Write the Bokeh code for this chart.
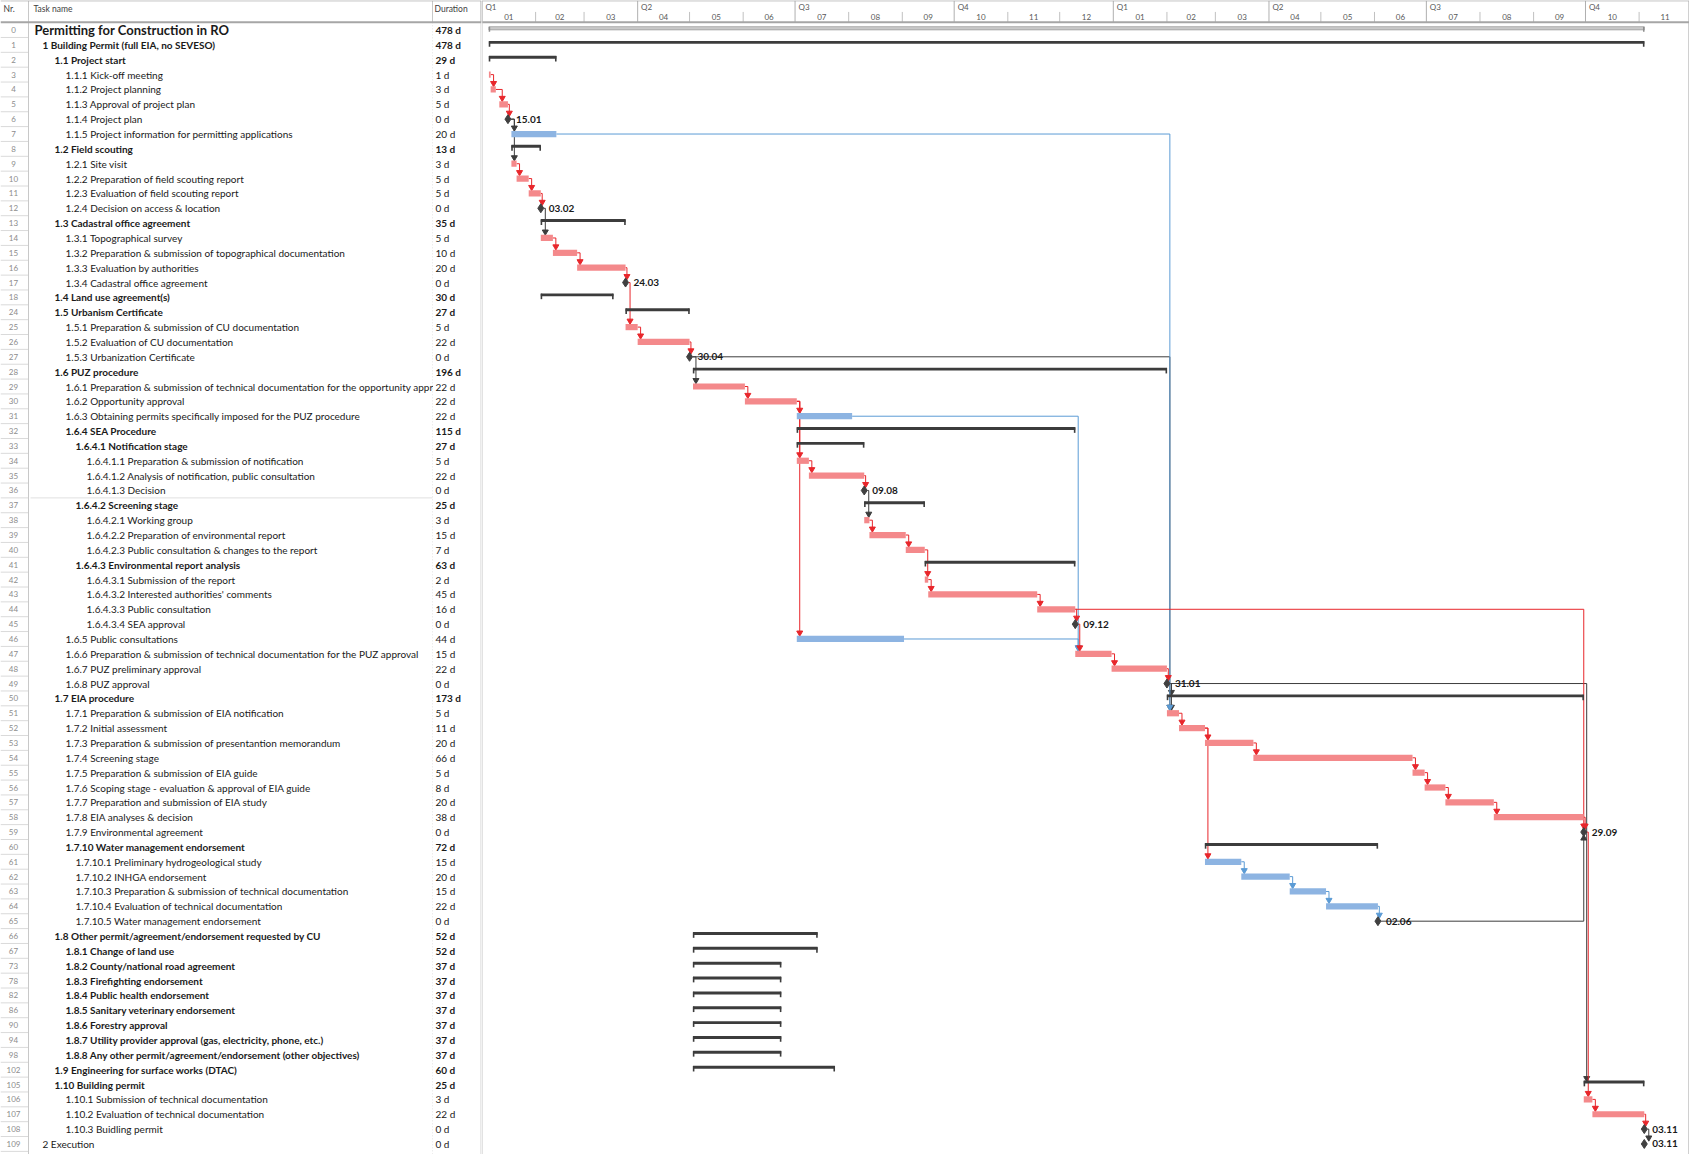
import pandas as pd
from bokeh.plotting import figure
from bokeh.layouts import row
from bokeh.models import Range1d
from bokeh.core.properties import value
from bokeh.embed import file_html
from bokeh.resources import INLINE

# ---------------- data ----------------
task_nr = [0, 1, 2, 3, 4, 5, 6, 7, 8, 9, 10, 11, 12, 13, 14, 15, 16, 17, 18,
           24, 25, 26, 27, 28, 29, 30, 31, 32, 33, 34, 35, 36, 37, 38, 39, 40, 41, 42, 43, 44, 45, 46, 47, 48, 49,
           50, 51, 52, 53, 54, 55, 56, 57, 58, 59, 60, 61, 62, 63, 64, 65,
           66, 67, 73, 78, 82, 86, 90, 94, 98, 102, 105, 106, 107, 108, 109]

task_name = [
    "Permitting for Construction in RO",
    "1 Building Permit (full EIA, no SEVESO)",
    "1.1 Project start",
    "1.1.1 Kick-off meeting",
    "1.1.2 Project planning",
    "1.1.3 Approval of project plan",
    "1.1.4 Project plan",
    "1.1.5 Project information for permitting applications",
    "1.2 Field scouting",
    "1.2.1 Site visit",
    "1.2.2 Preparation of field scouting report",
    "1.2.3 Evaluation of field scouting report",
    "1.2.4 Decision on access & location",
    "1.3 Cadastral office agreement",
    "1.3.1 Topographical survey",
    "1.3.2 Preparation & submission of topographical documentation",
    "1.3.3 Evaluation by authorities",
    "1.3.4 Cadastral office agreement",
    "1.4 Land use agreement(s)",
    "1.5 Urbanism Certificate",
    "1.5.1 Preparation & submission of CU documentation",
    "1.5.2 Evaluation of CU documentation",
    "1.5.3 Urbanization Certificate",
    "1.6 PUZ procedure",
    "1.6.1 Preparation & submission of technical documentation for the opportunity approv",
    "1.6.2 Opportunity approval",
    "1.6.3 Obtaining permits specifically imposed for the PUZ procedure",
    "1.6.4 SEA Procedure",
    "1.6.4.1 Notification stage",
    "1.6.4.1.1 Preparation & submission of notification",
    "1.6.4.1.2 Analysis of notification, public consultation",
    "1.6.4.1.3 Decision",
    "1.6.4.2 Screening stage",
    "1.6.4.2.1 Working group",
    "1.6.4.2.2 Preparation of environmental report",
    "1.6.4.2.3 Public consultation & changes to the report",
    "1.6.4.3 Environmental report analysis",
    "1.6.4.3.1 Submission of the report",
    "1.6.4.3.2 Interested authorities' comments",
    "1.6.4.3.3 Public consultation",
    "1.6.4.3.4 SEA approval",
    "1.6.5 Public consultations",
    "1.6.6 Preparation & submission of technical documentation for the PUZ approval",
    "1.6.7 PUZ preliminary approval",
    "1.6.8 PUZ approval",
    "1.7 EIA procedure",
    "1.7.1 Preparation & submission of EIA notification",
    "1.7.2 Initial assessment",
    "1.7.3 Preparation & submission of presentantion memorandum",
    "1.7.4 Screening stage",
    "1.7.5 Preparation & submission of EIA guide",
    "1.7.6 Scoping stage - evaluation & approval of EIA guide",
    "1.7.7 Preparation and submission of EIA study",
    "1.7.8 EIA analyses & decision",
    "1.7.9 Environmental agreement",
    "1.7.10 Water management endorsement",
    "1.7.10.1 Preliminary hydrogeological study",
    "1.7.10.2 INHGA endorsement",
    "1.7.10.3 Preparation & submission of technical documentation",
    "1.7.10.4 Evaluation of technical documentation",
    "1.7.10.5 Water management endorsement",
    "1.8 Other permit/agreement/endorsement requested by CU",
    "1.8.1 Change of land use",
    "1.8.2 County/national road agreement",
    "1.8.3 Firefighting endorsement",
    "1.8.4 Public health endorsement",
    "1.8.5 Sanitary veterinary endorsement",
    "1.8.6 Forestry approval",
    "1.8.7 Utility provider approval (gas, electricity, phone, etc.)",
    "1.8.8 Any other permit/agreement/endorsement (other objectives)",
    "1.9 Engineering for surface works (DTAC)",
    "1.10 Building permit",
    "1.10.1 Submission of technical documentation",
    "1.10.2 Evaluation of technical documentation",
    "1.10.3 Buidling permit",
    "2 Execution",
]

duration = ["478 d", "478 d", "29 d", "1 d", "3 d", "5 d", "0 d", "20 d", "13 d", "3 d", "5 d", "5 d", "0 d",
            "35 d", "5 d", "10 d", "20 d", "0 d", "30 d",
            "27 d", "5 d", "22 d", "0 d",
            "196 d", "22 d", "22 d", "22 d", "115 d", "27 d", "5 d", "22 d", "0 d", "25 d", "3 d", "15 d", "7 d",
            "63 d", "2 d", "45 d", "16 d", "0 d", "44 d", "15 d", "22 d", "0 d",
            "173 d", "5 d", "11 d", "20 d", "66 d", "5 d", "8 d", "20 d", "38 d", "0 d", "72 d", "15 d", "20 d",
            "15 d", "22 d", "0 d",
            "52 d", "52 d", "37 d", "37 d", "37 d", "37 d", "37 d", "37 d", "37 d", "60 d",
            "25 d", "3 d", "22 d", "0 d", "0 d"]

level = [0, 1, 2, 3, 3, 3, 3, 3, 2, 3, 3, 3, 3, 2, 3, 3, 3, 3, 2,
         2, 3, 3, 3,
         2, 3, 3, 3, 3, 4, 5, 5, 5, 4, 5, 5, 5, 4, 5, 5, 5, 5, 3, 3, 3, 3,
         2, 3, 3, 3, 3, 3, 3, 3, 3, 3, 3, 4, 4, 4, 4, 4,
         2, 3, 3, 3, 3, 3, 3, 3, 3, 2,
         2, 3, 3, 3, 1]

# P = project summary, S = summary, T = task, M = milestone
kind = ["P", "S", "S", "T", "T", "T", "M", "T", "S", "T", "T", "T", "M", "S", "T", "T", "T", "M", "S",
        "S", "T", "T", "M",
        "S", "T", "T", "T", "S", "S", "T", "T", "M", "S", "T", "T", "T", "S", "T", "T", "T", "M", "T", "T", "T", "M",
        "S", "T", "T", "T", "T", "T", "T", "T", "T", "M", "S", "T", "T", "T", "T", "M",
        "S", "S", "S", "S", "S", "S", "S", "S", "S", "S",
        "S", "T", "T", "M", "M"]

non_critical = [7, 31, 46, 61, 62, 63, 64]

start = ["2021-01-05", "2021-01-05", "2021-01-05", "2021-01-05", "2021-01-06", "2021-01-11", "2021-01-15",
         "2021-01-18", "2021-01-18", "2021-01-18", "2021-01-21", "2021-01-28", "2021-02-03",
         "2021-02-04", "2021-02-04", "2021-02-11", "2021-02-25", "2021-03-24", "2021-02-04",
         "2021-03-25", "2021-03-25", "2021-04-01", "2021-04-30",
         "2021-05-03", "2021-05-03", "2021-06-02", "2021-07-02", "2021-07-02", "2021-07-02", "2021-07-02",
         "2021-07-09", "2021-08-09", "2021-08-10", "2021-08-10", "2021-08-13", "2021-09-03",
         "2021-09-14", "2021-09-14", "2021-09-16", "2021-11-18", "2021-12-09", "2021-07-02",
         "2021-12-10", "2021-12-31", "2022-01-31",
         "2022-02-01", "2022-02-01", "2022-02-08", "2022-02-23", "2022-03-23", "2022-06-23", "2022-06-30",
         "2022-07-12", "2022-08-09", "2022-09-29", "2022-02-23", "2022-02-23", "2022-03-16", "2022-04-13",
         "2022-05-04", "2022-06-02",
         "2021-05-03", "2021-05-03", "2021-05-03", "2021-05-03", "2021-05-03", "2021-05-03", "2021-05-03",
         "2021-05-03", "2021-05-03", "2021-05-03",
         "2022-09-30", "2022-09-30", "2022-10-05", "2022-11-03", "2022-11-03"]

finish = ["2022-11-03", "2022-11-03", "2021-02-12", "2021-01-05", "2021-01-08", "2021-01-15", "2021-01-15",
          "2021-02-12", "2021-02-03", "2021-01-20", "2021-01-27", "2021-02-03", "2021-02-03",
          "2021-03-24", "2021-02-10", "2021-02-24", "2021-03-24", "2021-03-24", "2021-03-17",
          "2021-04-30", "2021-03-31", "2021-04-30", "2021-04-30",
          "2022-01-31", "2021-06-01", "2021-07-01", "2021-08-02", "2021-12-09", "2021-08-09", "2021-07-08",
          "2021-08-09", "2021-08-09", "2021-09-13", "2021-08-12", "2021-09-02", "2021-09-13",
          "2021-12-09", "2021-09-15", "2021-11-17", "2021-12-09", "2021-12-09", "2021-09-01",
          "2021-12-30", "2022-01-31", "2022-01-31",
          "2022-09-29", "2022-02-07", "2022-02-22", "2022-03-22", "2022-06-22", "2022-06-29", "2022-07-11",
          "2022-08-08", "2022-09-29", "2022-09-29", "2022-06-02", "2022-03-15", "2022-04-12", "2022-05-03",
          "2022-06-02", "2022-06-02",
          "2021-07-13", "2021-07-13", "2021-06-22", "2021-06-22", "2021-06-22", "2021-06-22", "2021-06-22",
          "2021-06-22", "2021-06-22", "2021-07-23",
          "2022-11-03", "2022-10-04", "2022-11-03", "2022-11-03", "2022-11-03"]

# dependencies (predecessor Nr., successor Nr.)
links_critical = [(3, 4), (4, 5), (5, 6), (9, 10), (10, 11), (11, 12), (14, 15), (15, 16), (16, 17), (17, 25),
                  (25, 26), (26, 27), (29, 30), (30, 31), (30, 34), (30, 46), (34, 35), (35, 36), (38, 39),
                  (39, 40), (40, 42), (42, 43), (43, 44), (44, 45), (45, 47), (47, 48), (48, 49), (51, 52),
                  (52, 53), (52, 61), (53, 54), (54, 55), (55, 56), (56, 57), (57, 58), (58, 59), (44, 59),
                  (59, 106), (106, 107), (107, 108)]
links_summary = [(6, 7), (6, 9), (12, 14), (27, 29), (36, 38), (49, 50), (49, 51), (108, 109), (27, 51),
                 (49, 105), (65, 59)]
links_noncritical = [(7, 51), (31, 47), (46, 47), (61, 62), (62, 63), (63, 64), (64, 65)]

quarter_labels = ["Q1", "Q2", "Q3", "Q4", "Q1", "Q2", "Q3", "Q4"]
quarter_starts = ["2021-01-01", "2021-04-01", "2021-07-01", "2021-10-01",
                  "2022-01-01", "2022-04-01", "2022-07-01", "2022-10-01"]
month_labels = ["01", "02", "03", "04", "05", "06", "07", "08", "09", "10", "11", "12",
                "01", "02", "03", "04", "05", "06", "07", "08", "09", "10", "11"]
month_starts = ["2021-01-01", "2021-02-01", "2021-03-01", "2021-04-01", "2021-05-01", "2021-06-01",
                "2021-07-01", "2021-08-01", "2021-09-01", "2021-10-01", "2021-11-01", "2021-12-01",
                "2022-01-01", "2022-02-01", "2022-03-01", "2022-04-01", "2022-05-01", "2022-06-01",
                "2022-07-01", "2022-08-01", "2022-09-01", "2022-10-01", "2022-11-01", "2022-12-01"]

assert len(task_nr) == len(task_name) == len(duration) == len(level) == len(kind) == len(start) == len(finish)

# ---------------- helpers ----------------
ORIGIN = pd.Timestamp("2021-01-01")


def day(s):
    return float((pd.Timestamp(s) - ORIGIN).days)


N = len(task_nr)
krow = {nr: i for i, nr in enumerate(task_nr)}
x_start = [day(s) for s in start]
x_end = [day(f) + 1.0 for f in finish]

FONT = value("Lato")
W_T, W_G, H = 481, 1208, 1154
PX_DAY = 1.7296
X0 = -0.29
X1 = X0 + W_G / PX_DAY
y_range = Range1d(75.71, -1.99)

RED = "#F4898B"
BLUE = "#8DB4E2"
RED_LINE = "#E8262B"
BLUE_LINE = "#5B9BD5"
DARK = "#3C3C3C"
GRID = "#A6A6A6"
TXT = "#1A1A1A"
FS = "10px"


def make_fig(w, xr):
    p = figure(width=w, height=H, x_range=xr, y_range=y_range, toolbar_location=None,
               output_backend="svg", x_axis_location=None, y_axis_location=None,
               min_border=0, outline_line_color=None, background_fill_color="white")
    p.xgrid.visible = False
    p.ygrid.visible = False
    return p


# ---------------- table ----------------
t = make_fig(W_T, Range1d(0, W_T))
TOP, HB, BOT = -1.97, -0.52, 75.71

# Nr. column cell borders
t.segment(x0=[0] * N, y0=[i + 0.5 for i in range(N)], x1=[28] * N, y1=[i + 0.5 for i in range(N)],
          line_color="#DADADA", line_width=1)
t.segment(x0=[28, 480.5, 432], y0=[TOP, TOP, TOP], x1=[28, 480.5, 432], y1=[BOT, BOT, HB],
          line_color=["#C8C8C8", GRID, "#C8C8C8"], line_width=1)
t.segment(x0=[432], y0=[HB], x1=[432], y1=[BOT], line_color="#E4E4E4", line_width=1, line_dash="1 2")
t.segment(x0=[30], y0=[31.5], x1=[432], y1=[31.5], line_color="#E0E0E0", line_width=1)

t.text(x=[3, 33, 434], y=[-1.45] * 3, text=["Nr.", "Task name", "Duration"], text_font=FONT,
       text_font_size="8.5px", text_color="#404040", text_baseline="middle")
t.text(x=[13] * N, y=list(range(N)), text=[str(n) for n in task_nr], text_font=FONT, text_font_size="8px",
       text_color="#8C8C8C", text_align="center", text_baseline="middle")

indent = [34, 42, 54, 65, 75, 86]
bold_idx = [i for i in range(N) if kind[i] in ("S", "P") and i != 0]
norm_idx = [i for i in range(N) if kind[i] not in ("S", "P")]
t.text(x=[indent[level[0]]], y=[0], text=[task_name[0]], text_font=FONT, text_font_size="13px",
       text_font_style="bold", text_color=TXT, text_baseline="middle")
t.text(x=[indent[level[i]] for i in bold_idx], y=bold_idx, text=[task_name[i] for i in bold_idx],
       text_font=FONT, text_font_size=FS, text_font_style="bold", text_color=TXT,
       text_baseline="middle")
t.text(x=[indent[level[i]] for i in norm_idx], y=norm_idx, text=[task_name[i] for i in norm_idx],
       text_font=FONT, text_font_size=FS, text_color=TXT, text_baseline="middle")
# mask (clips long names at the Duration column)
t.quad(left=[432.5], right=[480], bottom=[BOT], top=[HB + 0.05], fill_color="white", line_color=None)
t.text(x=[435] * len(bold_idx) + [435], y=bold_idx + [0], text=[duration[i] for i in bold_idx] + [duration[0]],
       text_font=FONT, text_font_size=FS, text_font_style="bold", text_color=TXT,
       text_baseline="middle")
t.text(x=[435] * len(norm_idx), y=norm_idx, text=[duration[i] for i in norm_idx], text_font=FONT,
       text_font_size=FS, text_color=TXT, text_baseline="middle")
t.segment(x0=[0, 0], y0=[TOP, HB], x1=[W_T, W_T], y1=[TOP, HB], line_color=GRID, line_width=[1, 2])

# ---------------- gantt ----------------
g = make_fig(W_G, Range1d(X0, X1))
qx = [day(q) for q in quarter_starts]
mx = [day(m) for m in month_starts]
g.segment(x0=qx, y0=[TOP] * len(qx), x1=qx, y1=[HB] * len(qx), line_color="#B0B0B0", line_width=1)
m_inner = [x for x in mx if x not in qx]
g.segment(x0=m_inner, y0=[-1.22] * len(m_inner), x1=m_inner, y1=[HB] * len(m_inner),
          line_color="#C0C0C0", line_width=1)
g.text(x=[q + 2.0 for q in qx], y=[-1.55] * len(qx), text=quarter_labels, text_font=FONT,
       text_font_size="8px", text_color="#595959", text_baseline="middle")
g.text(x=[(mx[i] + mx[i + 1]) / 2 for i in range(len(month_labels))], y=[-0.88] * len(month_labels),
       text=month_labels, text_font=FONT, text_font_size="8px", text_color="#595959",
       text_align="center", text_baseline="middle")
g.segment(x0=[X0, X0], y0=[TOP, HB], x1=[X1, X1], y1=[TOP, HB], line_color=GRID, line_width=[1, 2])
g.segment(x0=[X0 + 0.3, X1 - 0.3], y0=[TOP, TOP], x1=[X0 + 0.3, X1 - 0.3], y1=[BOT, BOT],
          line_color=["#C8C8C8", GRID], line_width=1)


# links
def link_geom(a, b):
    ia, ib = krow[a], krow[b]
    if kind[ia] == "M":
        xf = x_end[ia] + 1.8
    else:
        xf = x_end[ia]
    if kind[ib] == "M":
        xa = x_end[ib]
    else:
        xa = x_start[ib] + 1.7
    xa = max(xa, xf + 0.8)
    down = ib > ia
    yend = ib - 0.3 if down else ib + 0.3
    ytip = ib - 0.42 if down else ib + 0.42
    return [xf, xa, xa], [ia, ia, yend], xa, ytip, down


for links, col in ((links_summary, DARK), (links_noncritical, BLUE_LINE), (links_critical, RED_LINE)):
    xs_l, ys_l, ax_d, ay_d, ax_u, ay_u = [], [], [], [], [], []
    for a, b in links:
        lx, ly, xa, yt, down = link_geom(a, b)
        xs_l.append(lx)
        ys_l.append(ly)
        if down:
            ax_d.append(xa); ay_d.append(yt)
        else:
            ax_u.append(xa); ay_u.append(yt)
    g.multi_line(xs=xs_l, ys=ys_l, line_color=col, line_width=1)
    g.scatter(x=ax_d, y=ay_d, marker="inverted_triangle", size=6, fill_color=col, line_color=col)
    if ax_u:
        g.scatter(x=ax_u, y=ay_u, marker="triangle", size=6, fill_color=col, line_color=col)

# project summary
g.hbar(y=[0 - 0.12], left=[x_start[0]], right=[x_end[0]], height=0.22, fill_color="#C9C9C9",
       line_color="#8C8C8C", line_width=0.6)
g.segment(x0=[x_start[0] + 0.3, x_end[0] - 0.3], y0=[-0.2, -0.2], x1=[x_start[0] + 0.3, x_end[0] - 0.3],
          y1=[0.12, 0.12], line_color="#8C8C8C", line_width=1.5)

# summaries
s_idx = [i for i in range(N) if kind[i] == "S"]
g.hbar(y=[i - 0.17 for i in s_idx], left=[x_start[i] for i in s_idx], right=[x_end[i] for i in s_idx],
       height=0.2, fill_color=DARK, line_color=None)
sx = [x_start[i] + 0.35 for i in s_idx] + [x_end[i] - 0.35 for i in s_idx]
sy = [i for i in s_idx] * 2
g.segment(x0=sx, y0=[y - 0.25 for y in sy], x1=sx, y1=[y + 0.12 for y in sy], line_color=DARK, line_width=1.6)

# tasks
t_idx = [i for i in range(N) if kind[i] == "T"]
g.hbar(y=t_idx, left=[x_start[i] for i in t_idx], right=[x_end[i] for i in t_idx], height=0.42,
       fill_color=[BLUE if task_nr[i] in non_critical else RED for i in t_idx], line_color=None)

# milestones
m_idx = [i for i in range(N) if kind[i] == "M"]
g.scatter(x=[x_end[i] for i in m_idx], y=m_idx, marker="diamond", size=9, fill_color="#404040",
          line_color="#404040")
g.text(x=[x_end[i] + 4.6 for i in m_idx], y=m_idx,
       text=[pd.Timestamp(finish[i]).strftime("%d.%m") for i in m_idx], text_font=FONT,
       text_font_size="10px", text_font_style="bold", text_color=TXT, text_baseline="middle")

layout = row(t, g, spacing=0)
open("out.html", "w").write(file_html(layout, INLINE))
